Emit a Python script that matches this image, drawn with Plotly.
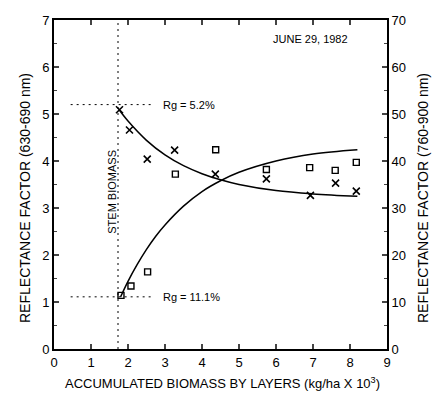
import plotly.graph_objects as go

# ---- data ----
# red reflectance (630-690 nm), left axis, "x" markers
red_x = [1.77, 2.04, 2.52, 3.26, 4.36, 5.74, 6.93, 7.61, 8.17]
red_y = [5.09, 4.66, 4.04, 4.23, 3.72, 3.62, 3.27, 3.53, 3.36]
# near-IR reflectance (760-900 nm), right axis, open squares
nir_x = [1.81, 2.08, 2.53, 3.28, 4.37, 5.74, 6.91, 7.60, 8.17]
nir_y = [11.4, 13.4, 16.4, 37.2, 42.4, 38.2, 38.6, 38.0, 39.7]
# fitted curves
red_fit_x = [1.75, 2.0, 2.5, 3.0, 3.5, 4.0, 4.5, 5.0, 6.0, 7.0, 8.2]
red_fit_y = [5.10, 4.85, 4.44, 4.13, 3.90, 3.73, 3.60, 3.50, 3.37, 3.30, 3.25]
nir_fit_x = [1.8, 2.0, 2.25, 2.5, 2.75, 3.0, 3.5, 4.0, 4.5, 5.0, 6.0, 7.0, 8.2]
nir_fit_y = [11.1, 14.4, 18.0, 21.2, 24.0, 26.4, 30.4, 33.5, 35.8, 37.6, 40.0, 41.5, 42.4]
# reference levels
stem_x = 1.73
rg_red = 5.2
rg_nir = 11.1
x_ticks = list(range(0, 10))
y_ticks = list(range(0, 8))
y2_ticks = list(range(0, 80, 10))

FONT = "Liberation Sans"
DOT = "2px,4px"
fig = go.Figure()

# dotted guide lines
fig.add_trace(go.Scatter(x=[stem_x, stem_x], y=[0, 7], mode="lines",
                         line=dict(color="black", width=1, dash=DOT), showlegend=False))
fig.add_trace(go.Scatter(x=[0.45, 2.72], y=[rg_red, rg_red], mode="lines",
                         line=dict(color="black", width=1, dash=DOT), showlegend=False))
fig.add_trace(go.Scatter(x=[0.45, 2.72], y=[rg_nir, rg_nir], mode="lines", yaxis="y2",
                         line=dict(color="black", width=1, dash=DOT), showlegend=False))

# fitted curves
fig.add_trace(go.Scatter(x=red_fit_x, y=red_fit_y, mode="lines",
                         line=dict(color="black", width=1.5, shape="spline", smoothing=1.0),
                         showlegend=False))
fig.add_trace(go.Scatter(x=nir_fit_x, y=nir_fit_y, mode="lines", yaxis="y2",
                         line=dict(color="black", width=1.5, shape="spline", smoothing=1.0),
                         showlegend=False))

# points
fig.add_trace(go.Scatter(x=red_x, y=red_y, mode="markers",
                         marker=dict(symbol="x-thin", size=7, line=dict(color="black", width=1.6)),
                         showlegend=False))
fig.add_trace(go.Scatter(x=nir_x, y=nir_y, mode="markers", yaxis="y2",
                         marker=dict(symbol="square-open", size=6, color="black",
                                     line=dict(color="black", width=1.4)),
                         showlegend=False))

# in-plot annotations
fig.add_annotation(x=2.88, y=rg_red, text="Rg = 5.2%", showarrow=False, xanchor="left",
                   yanchor="middle", font=dict(size=11, color="black", family=FONT))
fig.add_annotation(x=2.88, y=rg_nir, yref="y2", text="Rg = 11.1%", showarrow=False,
                   xanchor="left", yanchor="middle", font=dict(size=11, color="black", family=FONT))
fig.add_annotation(x=1.56, y=3.34, text="STEM BIOMASS", showarrow=False, textangle=-90,
                   font=dict(size=11, color="black", family=FONT))
fig.add_annotation(x=6.92, y=6.6, text="JUNE 29, 1982", showarrow=False,
                   font=dict(size=11, color="black", family=FONT))

# axis titles as annotations (pixel-placed)
fig.add_annotation(xref="paper", yref="paper", x=0, y=0.459, xshift=-29, textangle=-90,
                   text="REFLECTANCE FACTOR (630-690 nm)", showarrow=False,
                   xanchor="center", yanchor="middle", font=dict(size=14, color="black", family=FONT))
fig.add_annotation(xref="paper", yref="paper", x=1, y=0.459, xshift=36, textangle=-90,
                   text="REFLECTANCE FACTOR (760-900 nm)", showarrow=False,
                   xanchor="center", yanchor="middle", font=dict(size=14, color="black", family=FONT))
fig.add_annotation(xref="paper", yref="paper", x=0.505, y=0, yshift=-34,
                   text="ACCUMULATED BIOMASS BY LAYERS (kg/ha X 10<sup>3</sup>)", showarrow=False,
                   xanchor="center", yanchor="middle", font=dict(size=13, color="black", family=FONT))

# the page body adds an 8px offset, so the figure is 8px smaller and margins compensate
fig.update_layout(
    width=434, height=390,
    margin=dict(l=46, r=55, t=12, b=49, autoexpand=False),
    paper_bgcolor="white", plot_bgcolor="white",
    font=dict(family=FONT, size=13, color="black"),
    xaxis=dict(range=[0, 9], tickvals=x_ticks, ticks="inside", ticklen=5, tickwidth=1.5,
               showline=True, linecolor="black", linewidth=2, mirror="ticks",
               showgrid=False, zeroline=False, tickfont=dict(size=13), automargin=False),
    yaxis=dict(range=[0, 7], tickvals=y_ticks, ticks="inside", ticklen=5, tickwidth=1.5,
               minor=dict(ticks="inside", dtick=0.5, ticklen=3, tickwidth=1),
               showline=True, linecolor="black", linewidth=2, mirror=True,
               showgrid=False, zeroline=False, tickfont=dict(size=13), automargin=False),
    yaxis2=dict(range=[0, 70], tickvals=y2_ticks, ticks="inside", ticklen=5, tickwidth=1.5,
                minor=dict(ticks="inside", dtick=5, ticklen=3, tickwidth=1),
                overlaying="y", side="right",
                showline=True, linecolor="black", linewidth=2,
                showgrid=False, zeroline=False, tickfont=dict(size=13), automargin=False),
)

fig.write_html("out.html")
